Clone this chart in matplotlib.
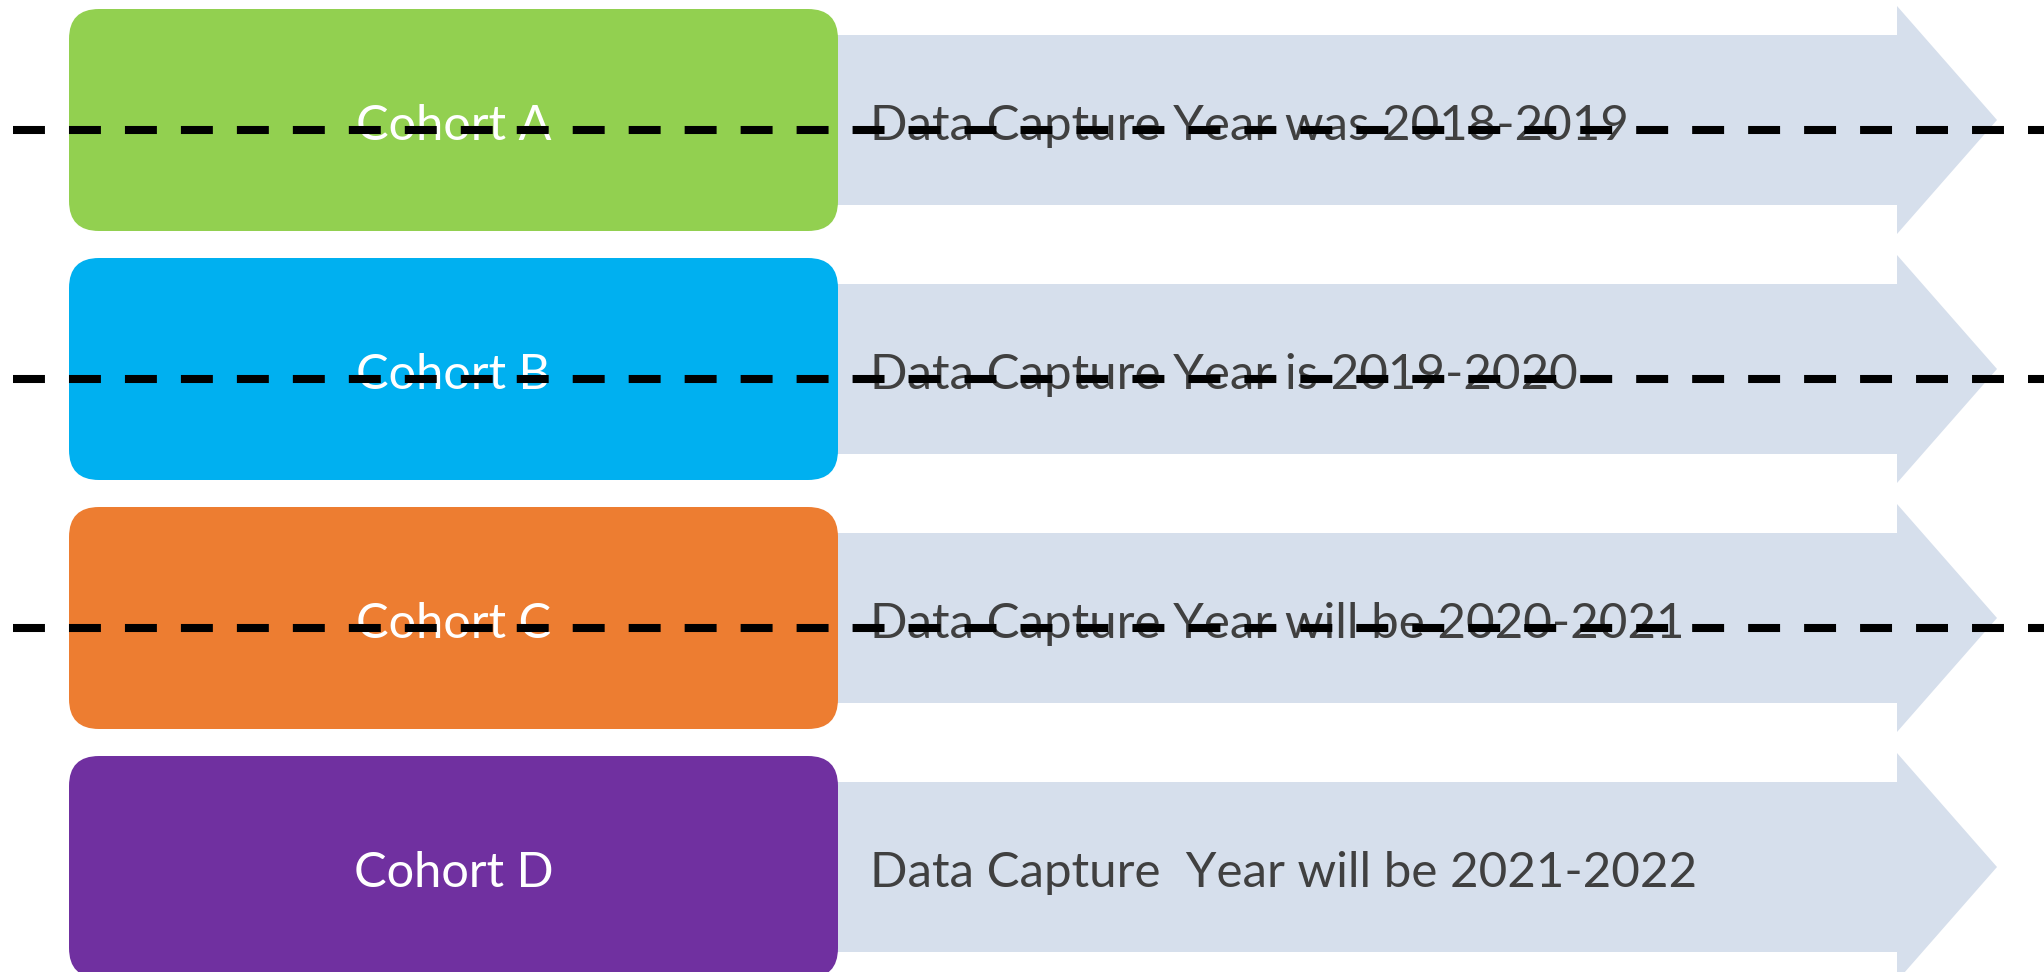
import matplotlib
matplotlib.use("Agg")
import matplotlib.pyplot as plt
from matplotlib.patches import FancyBboxPatch, Polygon

# cohort boxes and the caption in each arrow
COHORTS = ["Cohort A", "Cohort B", "Cohort C", "Cohort D"]
CAPTIONS = [
    "Data Capture Year was 2018-2019",
    "Data Capture Year is 2019-2020",
    "Data Capture Year will be 2020-2021",
    "Data Capture  Year will be 2021-2022",
]
BOX_COLORS = ["#92D050", "#00B0F0", "#ED7D31", "#7030A0"]
DASHED = [True, True, True, False]

# layout in pixels (figure is drawn in pixel coordinates)
W, H = 2044, 972
ROW_TOP = 9
ROW_PITCH = 249
BOX_H = 222
BOX_X0, BOX_X1 = 69, 838
BODY_X1, TIP_X = 1897, 1997
BODY_H, HEAD_H = 170, 228
TEXT_X = 870
DASH_DY = 10
ARROW_COLOR = "#D6DFEC"
TEXT_COLOR = "#404040"
FONT = ["Lato", "DejaVu Sans"]

plt.rcParams["lines.scale_dashes"] = False

fig = plt.figure(figsize=(W / 100, H / 100), dpi=100)
ax = fig.add_axes([0, 0, 1, 1])
ax.set_xlim(0, W)
ax.set_ylim(H, 0)
ax.axis("off")


def fit_size(text, width):
    # font size that makes text span the given pixel width
    t = ax.text(0, 0, text, fontsize=40, family=FONT)
    w = t.get_window_extent(fig.canvas.get_renderer()).width
    t.remove()
    return 40 * width / w


label_size = fit_size(COHORTS[-1], 200)
caption_size = fit_size(CAPTIONS[-1], 828)

for i, (name, caption, color) in enumerate(zip(COHORTS, CAPTIONS, BOX_COLORS)):
    top = ROW_TOP + i * ROW_PITCH
    cy = top + BOX_H / 2

    # arrow behind the box
    arrow = Polygon([
        (BOX_X1 - 40, cy - BODY_H / 2),
        (BODY_X1, cy - BODY_H / 2),
        (BODY_X1, cy - HEAD_H / 2),
        (TIP_X, cy),
        (BODY_X1, cy + HEAD_H / 2),
        (BODY_X1, cy + BODY_H / 2),
        (BOX_X1 - 40, cy + BODY_H / 2),
    ], closed=True, facecolor=ARROW_COLOR, edgecolor="none", zorder=1)
    ax.add_patch(arrow)

    box = FancyBboxPatch((BOX_X0, top), BOX_X1 - BOX_X0, BOX_H,
                         boxstyle="round,pad=0,rounding_size=30",
                         facecolor=color, edgecolor="none", zorder=2)
    ax.add_patch(box)

    ax.text((BOX_X0 + BOX_X1) / 2, cy + 6, name, color="white",
            fontsize=label_size, family=FONT, ha="center", va="center", zorder=3)
    ax.text(TEXT_X, cy + 6, caption, color=TEXT_COLOR,
            fontsize=caption_size, family=FONT, ha="left", va="center", zorder=3)

    if DASHED[i]:
        ax.plot([13, W + 60], [cy + DASH_DY, cy + DASH_DY], color="black", lw=5.8,
                dashes=(23, 17.3), solid_capstyle="butt",
                dash_capstyle="butt", zorder=4)

fig.savefig("out.png", dpi=100)
